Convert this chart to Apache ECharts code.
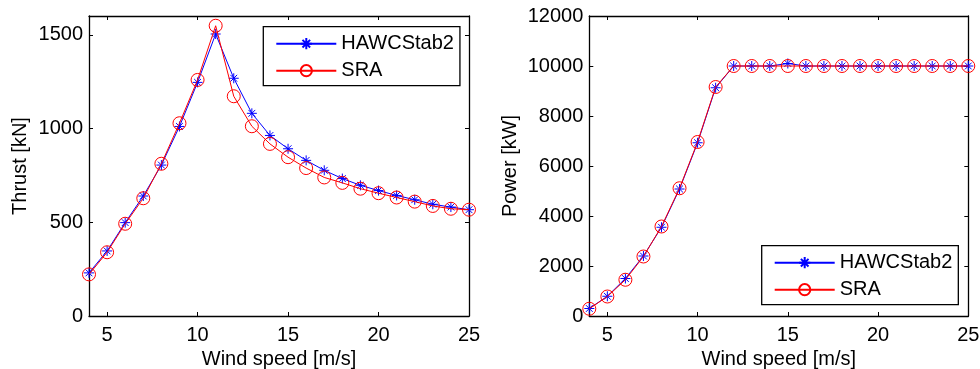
<!DOCTYPE html>
<html>
<head>
<meta charset="utf-8">
<script src="https://cdn.jsdelivr.net/npm/echarts@6/dist/echarts.min.js"></script>
<style>
html,body{margin:0;padding:0;background:#fff;}
#c{width:980px;height:369px;}
</style>
</head>
<body>
<div id="c"></div>
<script>
const windSpeed = [4,5,6,7,8,9,10,11,12,13,14,15,16,17,18,19,20,21,22,23,24,25];
const thrustHAWC = [230,347,498,640,805,1011,1246,1504,1268,1081,963,892,830,777,733,697,669,643,620,596,581,567];
const thrustSRA  = [222,340,492,628,812,1028,1259,1548,1172,1012,918,847,789,739,710,679,655,632,610,587,572,567];
const powerHAWC = [300,790,1500,2400,3550,5080,6930,9130,10000,10000,10000,10100,10000,10000,10000,10000,10000,10000,10000,10000,10000,10000];
const powerSRA  = [290,780,1450,2380,3580,5110,6960,9160,10000,10000,10000,10000,10000,10000,10000,10000,10000,10000,10000,10000,10000,10000];
const xTicks = [5,10,15,20,25];
const thrustTicks = [0,500,1000,1500];
const powerTicks = [0,2000,4000,6000,8000,10000,12000];
const seriesNames = ['HAWCStab2','SRA'];

const FONT = 'Liberation Sans';
const FS = 20;
const STAR = 'path://M5 0L5 10M0 5L10 5M1.6 1.6L8.4 8.4M8.4 1.6L1.6 8.4';
const pairs = (ys) => windSpeed.map((x,i)=>[x, ys[i]]);
const plain = (v) => String(v);

function xAx(grid, show){
  return {
    type:'value', gridIndex:grid, min:4, max:25, position: show?'bottom':'top',
    name: show ? 'Wind speed [m/s]' : '', nameLocation:'middle', nameGap:32,
    nameTextStyle:{fontFamily:FONT,fontSize:FS,color:'#000'},
    axisLine:{show:true,onZero:false,lineStyle:{color:'#000',width:1.3}},
    axisTick:{show:true,inside:true,length:4,customValues:xTicks,lineStyle:{color:'#000',width:1}},
    axisLabel:{show:show,customValues:xTicks,margin:9,formatter:plain,fontFamily:FONT,fontSize:FS,color:'#000'},
    splitLine:{show:false}
  };
}
function yAx(grid, show, max, ticks, name, gap){
  return {
    type:'value', gridIndex:grid, min:0, max:max, position: show?'left':'right',
    name: show ? name : '', nameLocation:'middle', nameGap:gap, nameRotate:90,
    nameTextStyle:{fontFamily:FONT,fontSize:FS,color:'#000'},
    axisLine:{show:true,onZero:false,lineStyle:{color:'#000',width:1.3}},
    axisTick:{show:true,inside:true,length:4,customValues:ticks,lineStyle:{color:'#000',width:1}},
    axisLabel:{show:show,customValues:ticks,margin:6,formatter:plain,fontFamily:FONT,fontSize:FS,color:'#000'},
    splitLine:{show:false}
  };
}
function blue(name, grid, ys){
  return {
    name:name, type:'line', xAxisIndex:grid*2, yAxisIndex:grid*2, data:pairs(ys),
    symbol:STAR, symbolSize:10, color:'#0000ff',
    lineStyle:{color:'#0000ff',width:1},
    itemStyle:{color:'#0000ff',borderColor:'#0000ff',borderWidth:1},
    animation:false, z:2
  };
}
function red(name, grid, ys){
  return {
    name:name, type:'line', xAxisIndex:grid*2, yAxisIndex:grid*2, data:pairs(ys),
    symbol:'circle', symbolSize:13, color:'#ff0000',
    lineStyle:{color:'#ff0000',width:1},
    itemStyle:{color:'rgba(255,255,255,0)',borderColor:'#ff0000',borderWidth:1},
    animation:false, z:3
  };
}
function legend(left, top){
  return {
    orient:'vertical', left:left, top:top, data:seriesNames,
    itemWidth:60, itemHeight:14, itemGap:7,
    padding:[7,6,5,12],
    borderColor:'#000', borderWidth:1.3, backgroundColor:'#fff',
    textStyle:{fontFamily:FONT,fontSize:FS,color:'#000',lineHeight:20},
    selectedMode:false
  };
}

const chart = echarts.init(document.getElementById('c'), null, {renderer:'canvas'});
chart.setOption({
  animation:false,
  backgroundColor:'#fff',
  grid:[
    {left:89, top:16, width:380, height:300, containLabel:false, outerBoundsMode:'none'},
    {left:589.3, top:16, width:379, height:300, containLabel:false, outerBoundsMode:'none'}
  ],
  xAxis:[xAx(0,true), xAx(0,false), xAx(1,true), xAx(1,false)],
  yAxis:[
    yAx(0,true,1600,thrustTicks,'Thrust [kN]',59),
    yAx(0,false,1600,thrustTicks,'',0),
    yAx(1,true,12000,powerTicks,'Power [kW]',69),
    yAx(1,false,12000,powerTicks,'',0)
  ],
  legend:[legend(263.3,26.7), legend(761.7,245.7)],
  series:[
    blue(seriesNames[0],0,thrustHAWC),
    red(seriesNames[1],0,thrustSRA),
    blue(seriesNames[0],1,powerHAWC),
    red(seriesNames[1],1,powerSRA)
  ]
});
</script>
</body>
</html>
